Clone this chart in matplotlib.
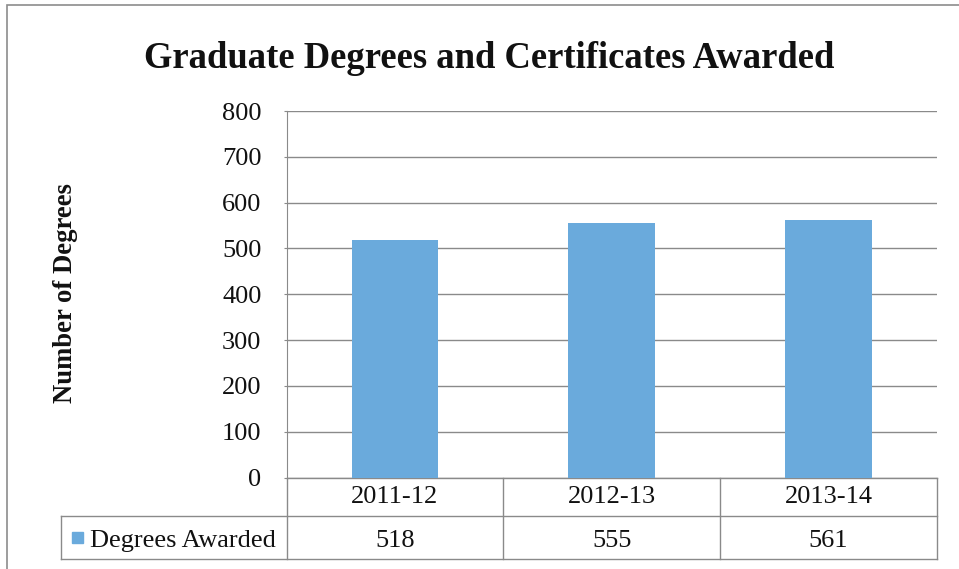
import matplotlib
matplotlib.use("Agg")
import matplotlib.pyplot as plt
import matplotlib.transforms as mtransforms
from matplotlib.patches import Rectangle

# data
years = ["2011-12", "2012-13", "2013-14"]
degrees = [518, 555, 561]
series_name = "Degrees Awarded"
y_ticks = [0, 100, 200, 300, 400, 500, 600, 700, 800]

plt.rcParams["font.family"] = ["Liberation Serif", "DejaVu Serif"]

W, H = 959, 569
fig = plt.figure(figsize=(W / 100, H / 100), dpi=100)

# outer chart border (runs off the right and bottom edge)
fig.patches.append(Rectangle((7 / W, -0.1), 1.1, 1 - 5 / H + 0.1, transform=fig.transFigure,
                             fill=False, edgecolor="#8c8c8c", linewidth=1.2))

ax = fig.add_axes([286.5 / W, 1 - 477.5 / H, 650.5 / W, 366.5 / H])
bar_color = "#6aaadc"
grid_color = "#8a8a8a"
text_color = "#111111"
fs = 19

x = list(range(len(years)))
ax.bar(x, degrees, width=0.4, color=bar_color, zorder=3)
ax.set_xlim(-0.5, len(years) - 0.5)
ax.set_ylim(0, 800)
ax.set_yticks(y_ticks)
ax.set_yticklabels([str(v) for v in y_ticks], fontsize=fs)
ax.yaxis.grid(True, color=grid_color, linewidth=1.0)
ax.set_axisbelow(True)
ax.set_xticks([])
for side in ["top", "right", "bottom"]:
    ax.spines[side].set_visible(False)
ax.spines["left"].set_color(grid_color)
ax.tick_params(axis="y", length=2, color=grid_color, pad=16, labelcolor=text_color)

# data table under the plot
trans = mtransforms.blended_transform_factory(ax.transData, ax.transAxes)
row1 = -38.5 / 366.5
row2 = -81 / 366.5
left_hdr = -0.5 - 225.5 / 216.8
edges = [-0.5 + i for i in range(len(years) + 1)]
lw = 1.0
ax.plot([edges[0], edges[-1]], [0, 0], transform=trans, color=grid_color, lw=lw, clip_on=False)
ax.plot([left_hdr, edges[-1]], [row1, row1], transform=trans, color=grid_color, lw=lw, clip_on=False)
ax.plot([left_hdr, edges[-1]], [row2, row2], transform=trans, color=grid_color, lw=lw, clip_on=False)
ax.plot([left_hdr, left_hdr], [row1, row2], transform=trans, color=grid_color, lw=lw, clip_on=False)
for e in edges:
    ax.plot([e, e], [0, row2], transform=trans, color=grid_color, lw=lw, clip_on=False)

row2_text = (row1 + row2) / 2 - 3.5 / 366.5
for i, (yr, val) in enumerate(zip(years, degrees)):
    ax.text(i, row1 / 2, yr, transform=trans, ha="center", va="center", fontsize=fs, color=text_color)
    ax.text(i, row2_text, str(val), transform=trans, ha="center", va="center",
            fontsize=fs, color=text_color)

# legend key in the row header
key_x = left_hdr + 11 / 216.8
ax.add_patch(Rectangle((key_x, (row1 + row2) / 2 - 6 / 366.5), 11 / 216.8, 11 / 366.5,
                       transform=trans, color=bar_color, clip_on=False))
ax.text(left_hdr + 29 / 216.8, row2_text, series_name, transform=trans,
        ha="left", va="center", fontsize=fs, color=text_color)

fig.text(489 / W, 1 - 58 / H, "Graduate Degrees and Certificates Awarded",
         ha="center", va="center", fontsize=26.4, fontweight="bold", color=text_color)
fig.text(65 / W, 1 - 293 / H, "Number of Degrees", rotation=90,
         ha="center", va="center", fontsize=19.2, fontweight="bold", color=text_color)

fig.savefig("out.png", dpi=100)
